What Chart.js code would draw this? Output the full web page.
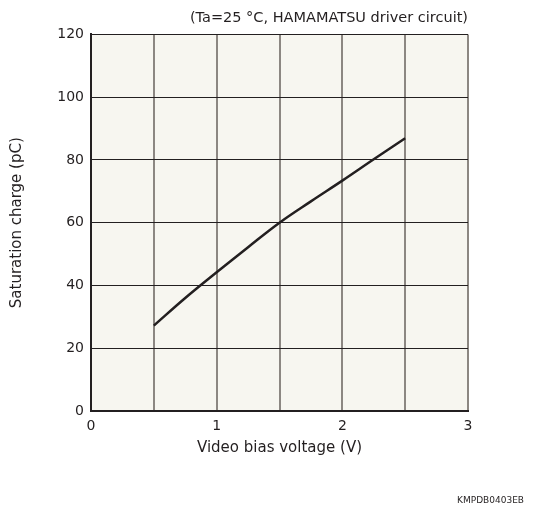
<!DOCTYPE html>
<html>
<head>
<meta charset="utf-8">
<script src="https://cdn.jsdelivr.net/npm/chart.js@4"></script>
<style>
  html, body { margin: 0; padding: 0; background: #fff; }
  #wrap { position: relative; width: 554px; height: 508px; }
  #code { position: absolute; right: 30px; top: 495px; font: 9px "DejaVu Sans", sans-serif; color: #231f20; }
</style>
</head>
<body>
<div id="wrap">
  <canvas id="chart" width="554" height="508"></canvas>
  <div id="code">KMPDB0403EB</div>
</div>
<script>
// curve
const biasVoltage = [0.5, 0.75, 1.0, 1.25, 1.5, 1.75, 2.0, 2.25, 2.5];
const saturationCharge = [27.2, 36.0, 44.2, 52.2, 60.0, 66.8, 73.4, 80.2, 86.9];

const ink = '#231f20';
const fontName = '"DejaVu Sans", Tahoma, sans-serif';

const plotBackground = {
    id: 'plotBackground',
    beforeDraw(chart) {
        const { ctx, chartArea: a } = chart;
        ctx.save();
        ctx.fillStyle = '#f7f6f0';
        ctx.fillRect(a.left, a.top, a.right - a.left, a.bottom - a.top);
        ctx.restore();
    }
};

new Chart(document.getElementById('chart'), {
    type: 'scatter',
    data: {
        datasets: [{
            data: biasVoltage.map((v, i) => ({ x: v, y: saturationCharge[i] })),
            showLine: true,
            borderColor: ink,
            borderWidth: 2.5,
            pointRadius: 0,
            tension: 0.4
        }]
    },
    plugins: [plotBackground],
    options: {
        responsive: false,
        animation: false,
        layout: { padding: { left: 4, right: 86, top: 10, bottom: 0 } },
        plugins: {
            legend: { display: false },
            tooltip: { enabled: false },
            title: {
                display: true,
                text: '(Ta=25 °C, HAMAMATSU driver circuit)',
                align: 'end',
                color: ink,
                font: { family: fontName, size: 14.5, weight: 'normal' },
                padding: { top: 0, bottom: 7 }
            }
        },
        scales: {
            x: {
                type: 'linear',
                min: 0,
                max: 3,
                ticks: {
                    stepSize: 0.5,
                    color: ink,
                    padding: 7,
                    maxRotation: 0,
                    font: { family: fontName, size: 14 },
                    callback: v => Number.isInteger(v) ? v : ''
                },
                grid: { color: '#8c8782', lineWidth: 2, drawTicks: false },
                border: { color: ink, width: 2 },
                title: {
                    display: true,
                    text: 'Video bias voltage (V)',
                    color: ink,
                    font: { family: fontName, size: 15 },
                    padding: { top: 6, bottom: 51 }
                },
                afterFit: s => { s.height = 97; }
            },
            y: {
                min: 0,
                max: 120,
                ticks: {
                    stepSize: 20,
                    color: ink,
                    padding: 7,
                    font: { family: fontName, size: 14 }
                },
                grid: { color: ink, lineWidth: 1, drawTicks: false },
                border: { color: ink, width: 2 },
                title: {
                    display: true,
                    text: 'Saturation charge (pC)',
                    color: ink,
                    font: { family: fontName, size: 15 },
                    padding: { bottom: 18 }
                },
                afterFit: s => { s.width = 87; }
            }
        }
    }
});
</script>
</body>
</html>
